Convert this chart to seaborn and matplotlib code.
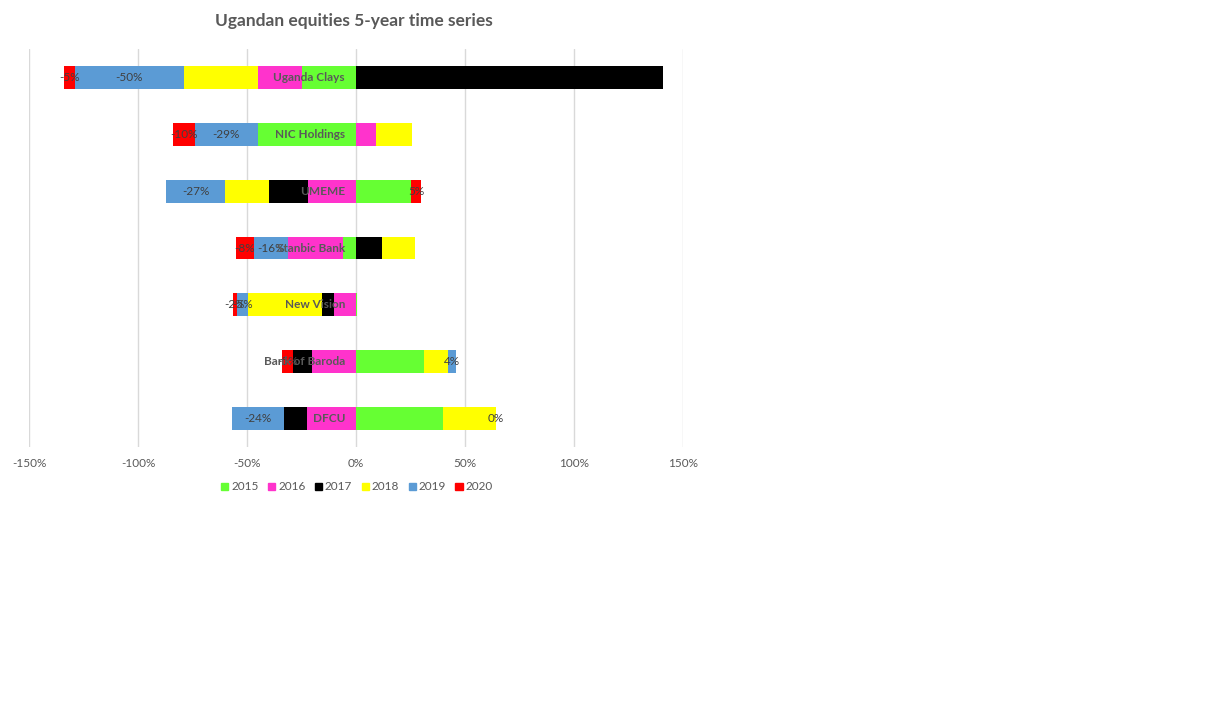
import numpy as np
import pandas as pd
import matplotlib
matplotlib.use("Agg")
import matplotlib.pyplot as plt
import matplotlib.transforms as mtransforms
from matplotlib.patches import Patch
import seaborn as sns


# DATA (annual returns, %)

companies = ["Uganda Clays", "NIC Holdings", "UMEME", "Stanbic Bank",
             "New Vision", "Bank of Baroda", "DFCU"]
years = ["2015", "2016", "2017", "2018", "2019", "2020"]

r2015 = [-25, -45, 25, -6, 0.5, 31, 40]
r2016 = [-20, 9, -22, -25, -10, -20, -22.5]
r2017 = [141, 0, -18, 12, -5.5, -9, -10.5]
r2018 = [-34, 16.5, -20, 15, -34, 11, 24]
r2019 = [-50, -29, -27, -16, -5, 4, -24]
r2020 = [-5, -10, 5, -8, -2, -5, 0]

series = [r2015, r2016, r2017, r2018, r2019, r2020]
colors = ["#66FF33", "#FF33CC", "#000000", "#FFFF00", "#5B9BD5", "#FF0000"]
labelled = ["2019", "2020"]

GREY = "#595959"

sns.set_theme(style="white")
plt.rcParams["font.family"] = ["Lato", "DejaVu Sans"]

fig = plt.figure(figsize=(12.3, 7.16), dpi=100)
ax = fig.add_axes([29 / 1230, 1 - 447 / 716, 654 / 1230, 398 / 716])

# start / end of every segment, negatives stack left, positives right
n = len(companies)
pos = np.zeros(n)
neg = np.zeros(n)
starts, ends = [], []
for vals in series:
    v = np.array(vals, dtype=float)
    s = np.where(v >= 0, pos, neg)
    starts.append(s.copy())
    ends.append(s + v)
    pos = np.where(v >= 0, pos + v, pos)
    neg = np.where(v < 0, neg + v, neg)

# outermost series first, inner ones paint over them
for k in reversed(range(len(years))):
    df = pd.DataFrame({"company": companies, "end": ends[k]})
    df = df[np.array(series[k]) != 0]
    sns.barplot(data=df, x="end", y="company", order=companies, orient="h",
                color=colors[k], saturation=1, width=0.4, linewidth=0, ax=ax)

# data labels for 2019 / 2020
for k, yr in enumerate(years):
    if yr not in labelled:
        continue
    for i in range(n):
        mid = (starts[k][i] + ends[k][i]) / 2
        ax.text(mid, i, f"{series[k][i]:.0f}%", ha="center", va="center",
                fontsize=8.5, color="#404040")

# category names next to the zero line
trans = mtransforms.offset_copy(ax.transData, fig=fig, x=-11, y=0, units="dots")
for i, name in enumerate(companies):
    ax.text(0, i, name, transform=trans, ha="right", va="center",
            fontsize=8.5, fontweight="bold", color=GREY)

ticks = [-150, -100, -50, 0, 50, 100, 150]
ax.set_xlim(-150, 150)
ax.set_ylim(6.5, -0.5)
ax.set_xticks(ticks)
ax.set_xticklabels([f"{t}%" for t in ticks])
ax.set_yticks([])
ax.set_xlabel("")
ax.set_ylabel("")
ax.tick_params(axis="x", length=0, pad=8, labelsize=8.5, labelcolor=GREY)
ax.grid(axis="x", color="#d9d9d9", linewidth=1)
ax.set_axisbelow(True)
sns.despine(ax=ax, left=True, bottom=True)

fig.text(354 / 1230, 1 - 21 / 716, "Ugandan equities 5-year time series",
         ha="center", va="center", fontsize=12.5, fontweight="bold", color=GREY)

handles = [Patch(color=c) for c in colors]
fig.legend(handles, years, loc="center", bbox_to_anchor=(357 / 1230, 1 - 487 / 716),
           ncol=6, frameon=False, fontsize=8.5, handlelength=0.6, handleheight=0.6,
           handletextpad=0.25, columnspacing=0.8, labelcolor=GREY)

fig.savefig("out.png", dpi=100)
